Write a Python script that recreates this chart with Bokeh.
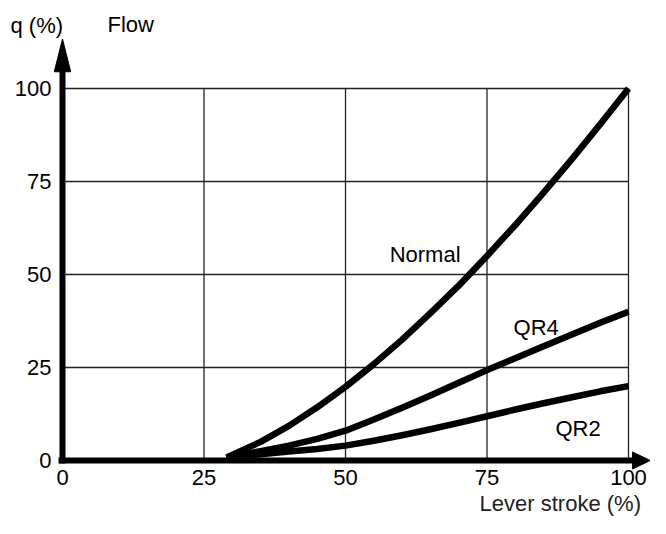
from bokeh.plotting import figure
from bokeh.models import Range1d
from bokeh.core.properties import value
from bokeh.embed import file_html
from bokeh.resources import INLINE

# ---- data ----
X_TICKS = [0, 25, 50, 75, 100]
Y_TICKS = [0, 25, 50, 75, 100]
X_TICK_LABELS = ["0", "25", "50", "75", "100"]
Y_TICK_LABELS = ["0", "25", "50", "75", "100"]
STROKE = [29, 35, 40, 45, 50, 55, 60, 65, 70, 75, 80, 85, 90, 95, 100]
NORMAL = [0.8, 5, 9.3, 14.3, 19.8, 25.9, 32.5, 39.6, 47, 55, 63.3, 72, 81, 90.4, 100]
QR4 = [0.8, 2.5, 4, 5.8, 8, 11, 14.2, 17.5, 20.9, 24.3, 27.5, 30.7, 33.9, 37, 40]
QR2 = [0.8, 1.7, 2.4, 3.1, 4, 5.3, 6.8, 8.4, 10.1, 11.9, 13.7, 15.4, 17, 18.6, 20]
SERIES_NAMES = ["Normal", "QR4", "QR2"]
Y_TITLE = "q (%)"
CHART_TITLE = "Flow"
X_TITLE = "Lever stroke (%)"

FONT = value("Liberation Sans")
FS = value("22px")

W, H = 650, 518
p = figure(width=W, height=H, output_backend="svg", toolbar_location=None,
           x_range=Range1d(-10.954, 103.887), y_range=Range1d(-15.591, 123.656),
           x_axis_location=None, y_axis_location=None, min_border=0)
p.outline_line_color = None
p.grid.visible = False
p.background_fill_color = "white"
p.border_fill_color = "white"

# grid lines bounded to the data box
x0, x1 = X_TICKS[0], X_TICKS[-1]
y0, y1 = Y_TICKS[0], Y_TICKS[-1]
n = len(X_TICKS) - 1
p.segment(x0=X_TICKS[1:], y0=[y0] * n, x1=X_TICKS[1:], y1=[y1] * n,
          line_color="#222222", line_width=1.3)
p.segment(x0=[x0] * n, y0=Y_TICKS[1:], x1=[x1] * n, y1=Y_TICKS[1:],
          line_color="#222222", line_width=1.3)

# axes with arrow heads
Y_ARROW_BASE, Y_ARROW_TIP, Y_HEAD_HALF = 104.5, 113.3, 1.45
X_ARROW_BASE, X_ARROW_TIP, X_HEAD_HALF = 100.7, 103.85, 2.3
p.line([0, 0], [-0.8, Y_ARROW_BASE + 0.5], line_color="black", line_width=6)
p.line([-0.7, X_ARROW_BASE + 0.3], [0, 0], line_color="black", line_width=6)
p.patch([-Y_HEAD_HALF, Y_HEAD_HALF, 0], [Y_ARROW_BASE, Y_ARROW_BASE, Y_ARROW_TIP],
        fill_color="black", line_color="black", line_width=1)
p.patch([X_ARROW_BASE, X_ARROW_BASE, X_ARROW_TIP], [-X_HEAD_HALF, X_HEAD_HALF, 0],
        fill_color="black", line_color="black", line_width=1)

# curves
for ys in (NORMAL, QR4, QR2):
    p.line(STROKE, ys, line_color="black", line_width=6.5, line_cap="butt", line_join="round")

# tick labels (placed via the data scales)
X_LABEL_Y = -4.6    # below the x axis
Y_LABEL_X = -1.95   # left of the y axis
p.text(x=X_TICKS, y=[X_LABEL_Y] * len(X_TICKS), text=X_TICK_LABELS, text_font=FONT,
       text_font_size=FS, text_color="black", text_align="center", text_baseline="middle")
p.text(x=[Y_LABEL_X] * len(Y_TICKS), y=Y_TICKS, text=Y_TICK_LABELS, text_font=FONT,
       text_font_size=FS, text_color="black", text_align="right", text_baseline="middle")

def lab(x, y, text, align="left", color="black"):
    p.text(x=[x], y=[y], text=[text], text_font=FONT, text_font_size=FS,
           text_color=color, text_align=align, text_baseline="alphabetic")

lab(-9.19, 117.0, Y_TITLE)
lab(7.95, 117.3, CHART_TITLE)
lab(102.2, -11.5, X_TITLE, align="right", color="#222222")
lab(57.8, 55.4, SERIES_NAMES[0])
lab(79.7, 35.8, SERIES_NAMES[1])
lab(87.1, 8.5, SERIES_NAMES[2])

open("out.html", "w").write(file_html(p, INLINE))
